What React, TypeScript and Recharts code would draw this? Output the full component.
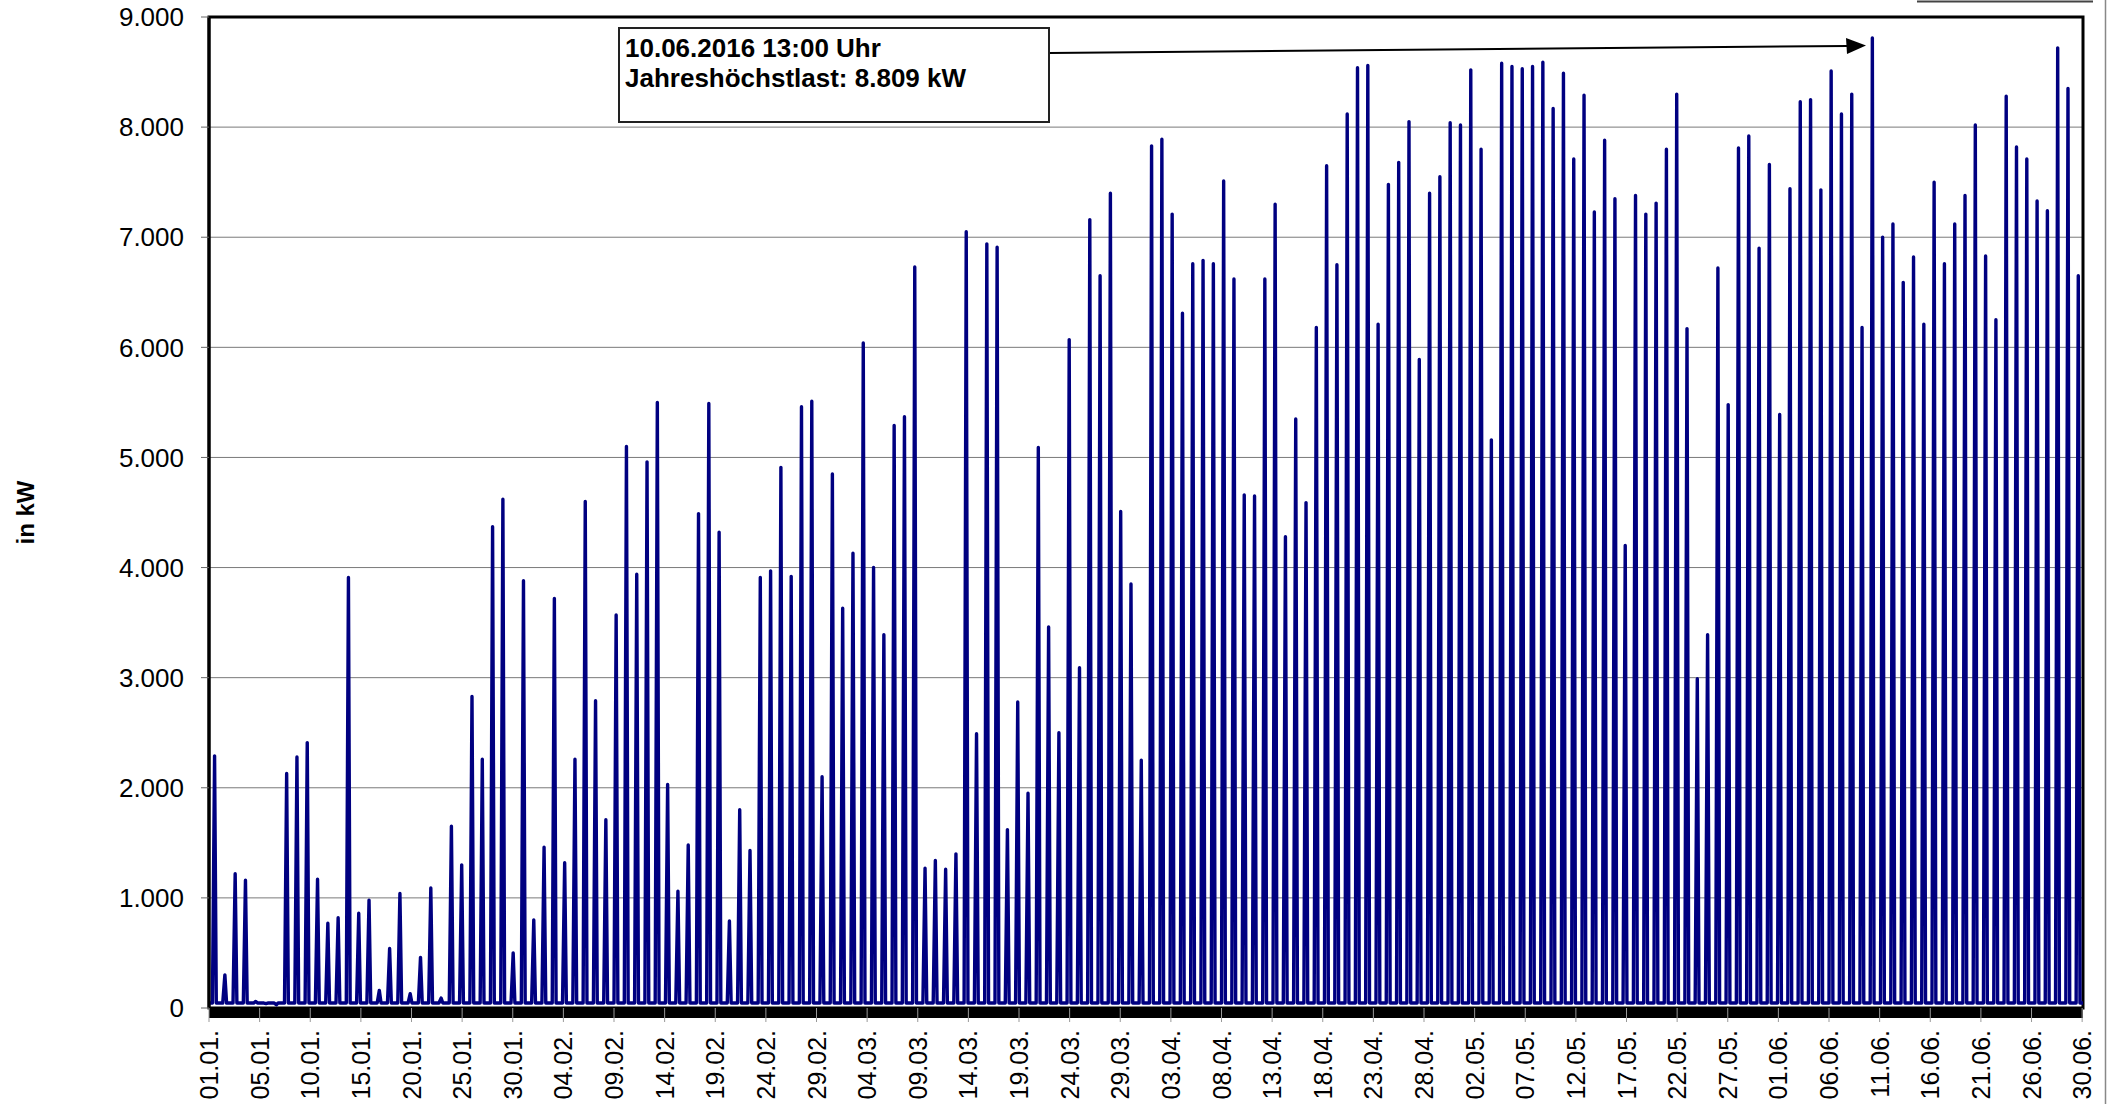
import React from 'react';
import { LineChart, Line, XAxis, YAxis, CartesianGrid, ReferenceArea } from 'recharts';

// Daily maximum load (kW), 01.01.2016 .. 30.06.2016
const DAILY_PEAK_KW = [
  2290, 300, 1220, 1160, 60, 40, 30, 2130, 2280, 2410,
  1170, 770, 820, 3910, 860, 980, 160, 540, 1040, 130,
  460, 1090, 90, 1650, 1300, 2830, 2260, 4370, 4620, 500,
  3880, 800, 1460, 3720, 1320, 2260, 4600, 2790, 1710, 3570,
  5100, 3940, 4960, 5500, 2030, 1060, 1480, 4490, 5490, 4320,
  790, 1800, 1430, 3910, 3970, 4910, 3920, 5460, 5510, 2100,
  4850, 3630, 4130, 6040, 4000, 3390, 5290, 5370, 6730, 1270,
  1340, 1260, 1400, 7050, 2490, 6940, 6910, 1620, 2780, 1950,
  5090, 3460, 2500, 6070, 3090, 7160, 6650, 7400, 4510, 3850,
  2250, 7830, 7890, 7210, 6310, 6760, 6790, 6760, 7510, 6620,
  4660, 4650, 6620, 7300, 4280, 5350, 4590, 6180, 7650, 6750,
  8120, 8540, 8560, 6210, 7480, 7680, 8050, 5890, 7400, 7550,
  8040, 8020, 8520, 7800, 5160, 8580, 8550, 8530, 8550, 8590,
  8170, 8490, 7710, 8290, 7230, 7880, 7350, 4200, 7380, 7210,
  7310, 7800, 8300, 6170, 2990, 3390, 6720, 5480, 7810, 7920,
  6900, 7660, 5390, 7440, 8230, 8250, 7430, 8510, 8120, 8300,
  6180, 8809, 7000, 7120, 6590, 6820, 6210, 7500, 6760, 7120,
  7380, 8020, 6830, 6250, 8280, 7820, 7710, 7330, 7240, 8720,
  8350, 6650,
];

// Night / base load between the daily peaks (kW)
const NIGHT_LOAD_KW = 45;
// Hours of the day where the daily profile changes
const RISE_HOUR = 8;
const PEAK_HOUR = 13;
const FALL_HOUR = 17;
const TOTAL_HOURS = 4368;

// X axis: tick positions (hour index) and labels
const X_TICK_HOURS = [
  0, 118, 236, 354, 472, 590, 708, 826, 944, 1062, 1180, 1298, 1416, 1534, 1652,
  1770, 1888, 2006, 2124, 2242, 2360, 2478, 2596, 2714, 2832, 2950, 3068, 3186,
  3304, 3422, 3540, 3658, 3776, 3894, 4012, 4130, 4248, 4366,
];
const X_TICK_LABELS = [
  '01.01.', '05.01.', '10.01.', '15.01.', '20.01.', '25.01.', '30.01.',
  '04.02.', '09.02.', '14.02.', '19.02.', '24.02.', '29.02.',
  '04.03.', '09.03.', '14.03.', '19.03.', '24.03.', '29.03.',
  '03.04.', '08.04.', '13.04.', '18.04.', '23.04.', '28.04.',
  '02.05.', '07.05.', '12.05.', '17.05.', '22.05.', '27.05.',
  '01.06.', '06.06.', '11.06.', '16.06.', '21.06.', '26.06.', '30.06.',
];
const Y_TICKS = [0, 1000, 2000, 3000, 4000, 5000, 6000, 7000, 8000, 9000];

const FONT = '"Liberation Sans", Arial, sans-serif';

const rows: { t: number; v: number }[] = [];
DAILY_PEAK_KW.forEach((peak, d) => {
  rows.push({ t: d * 24, v: NIGHT_LOAD_KW });
  rows.push({ t: d * 24 + RISE_HOUR, v: NIGHT_LOAD_KW });
  rows.push({ t: d * 24 + PEAK_HOUR, v: peak });
  rows.push({ t: d * 24 + FALL_HOUR, v: NIGHT_LOAD_KW });
});
rows.push({ t: TOTAL_HOURS, v: NIGHT_LOAD_KW });

const fmtDe = (v: number) => String(v).replace(/\B(?=(\d{3})+(?!\d))/g, '.');

const XTick = (props: any) => {
  const { x, y, payload } = props;
  const i = X_TICK_HOURS.indexOf(payload.value);
  return (
    <text
      x={0}
      y={0}
      transform={`translate(${x},${y + 6}) rotate(-90)`}
      textAnchor="end"
      dominantBaseline="central"
      fontSize={25}
      fontFamily={FONT}
      fill="#000"
    >
      {X_TICK_LABELS[i]}
    </text>
  );
};

const YLabel = (props: any) => {
  const vb = props.viewBox || { x: 0, y: 17, width: 209, height: 991 };
  const cx = vb.x + 25;
  const cy = vb.y + vb.height / 2;
  return (
    <text
      x={cx}
      y={cy}
      transform={`rotate(-90, ${cx}, ${cy})`}
      textAnchor="middle"
      dominantBaseline="central"
      fontSize={24}
      fontWeight="bold"
      fontFamily={FONT}
      fill="#000"
    >
      in kW
    </text>
  );
};

export default function App() {
  return (
    <div style={{ position: 'absolute', left: 0, top: 0, width: 2112, height: 1104, background: '#fff' }}>
      <LineChart
        width={2112}
        height={1104}
        data={rows}
        margin={{ top: 17, right: 29, bottom: 0, left: 0 }}
        style={{ fontFamily: FONT }}
      >
        <CartesianGrid vertical={false} stroke="#7a7a7a" strokeWidth={1} />
        <XAxis
          type="number"
          dataKey="t"
          domain={[0, TOTAL_HOURS]}
          ticks={X_TICK_HOURS}
          interval={0}
          height={96}
          tick={<XTick />}
          tickSize={14}
          tickLine={{ stroke: '#999' }}
          axisLine={{ stroke: '#000', strokeWidth: 10, transform: 'translate(0,5)' }}
        />
        <YAxis
          type="number"
          domain={[0, 9000]}
          ticks={Y_TICKS}
          interval={0}
          width={209}
          tickSize={8}
          tickMargin={17}
          tickFormatter={fmtDe}
          tick={{ fontSize: 26, fill: '#000', fontFamily: FONT }}
          tickLine={{ stroke: '#666' }}
          axisLine={{ stroke: '#000', strokeWidth: 3 }}
          label={<YLabel />}
        />
        <ReferenceArea
          x1={0}
          x2={TOTAL_HOURS}
          y1={0}
          y2={9000}
          fill="none"
          stroke="#000"
          strokeWidth={3}
          fillOpacity={0}
          ifOverflow="visible"
        />
        <Line
          type="linear"
          dataKey="v"
          stroke="#000080"
          strokeWidth={3.4}
          strokeLinejoin="round"
          dot={false}
          activeDot={false}
          isAnimationActive={false}
        />
      </LineChart>
      <svg
        width={2112}
        height={1104}
        style={{ position: 'absolute', left: 0, top: 0, pointerEvents: 'none' }}
      >
        <line x1={1917} y1={1.5} x2={2093} y2={1.5} stroke="#444" strokeWidth={2} />
        <line x1={2105.5} y1={0} x2={2105.5} y2={1104} stroke="#888" strokeWidth={1.5} />
        <rect x={619} y={28} width={430} height={94} fill="#fff" stroke="#222" strokeWidth={2} />
        <text x={625} y={57} fontSize={26} fontWeight="bold" fontFamily={FONT} fill="#000">
          10.06.2016 13:00 Uhr
        </text>
        <text x={625} y={87} fontSize={26} fontWeight="bold" fontFamily={FONT} fill="#000">
          Jahreshöchstlast: 8.809 kW
        </text>
        <line x1={1050} y1={53} x2={1848} y2={46} stroke="#000" strokeWidth={2} />
        <polygon points="1866,45.5 1846,38 1847,54" fill="#000" />
      </svg>
    </div>
  );
}
